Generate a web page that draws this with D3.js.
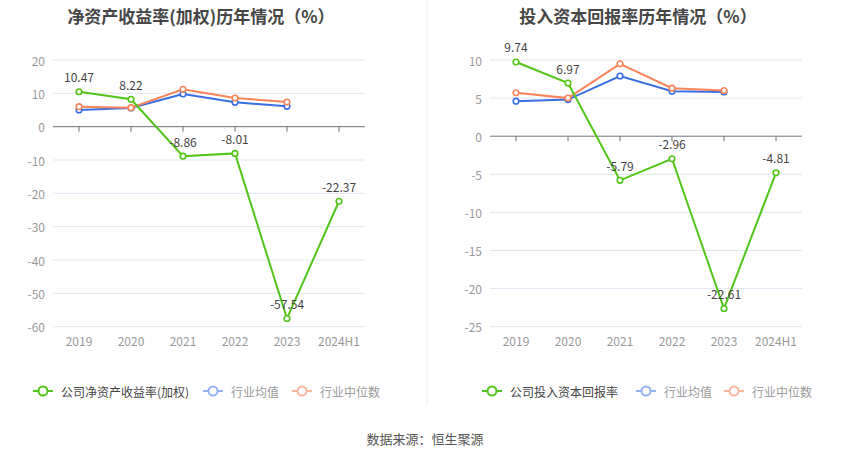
<!DOCTYPE html>
<html>
<head>
<meta charset="utf-8">
<script src="https://cdn.jsdelivr.net/npm/d3@7"></script>
<style>
  body{margin:0;background:#fff;}
  svg{font-family:"Noto Sans CJK SC","Noto Sans",sans-serif;}
</style>
</head>
<body>
<div id="chart"></div>
<script>
const years=["2019","2020","2021","2022","2023","2024H1"];

const roeCompany=[10.47,8.22,-8.86,-8.01,-57.54,-22.37];
const roeAvg=[5.0,5.6,9.8,7.3,6.1];
const roeMedian=[6.0,5.7,11.2,8.6,7.4];
const roeTicks=[20,10,0,-10,-20,-30,-40,-50,-60];

const roicCompany=[9.74,6.97,-5.79,-2.96,-22.61,-4.81];
const roicAvg=[4.6,4.8,7.9,5.9,5.8];
const roicMedian=[5.7,5.0,9.5,6.3,6.0];
const roicTicks=[10,5,0,-5,-10,-15,-20,-25];

const green="#52c41a", blue="#3a6fe4", orange="#f8845b";

const svg=d3.select("#chart")
    .append("svg")
    .attr("width",850)
    .attr("height",459);

// divider between the two panels
svg.append("line")
    .attr("x1",427).attr("x2",427)
    .attr("y1",0).attr("y2",405)
    .attr("stroke","#eeeeee");

function drawPanel(p){

    const x=d3.scaleBand().domain(years).range([p.left,p.right]);
    const y=d3.scaleLinear().domain([p.ticks[p.ticks.length-1],p.ticks[0]]).range([326.7,60]);
    const cx=d=>x(d)+x.bandwidth()/2;

    const g=svg.append("g");

    g.append("text")
        .attr("x",p.titleX).attr("y",15)
        .attr("text-anchor","middle")
        .attr("dominant-baseline","central")
        .attr("font-size",17)
        .attr("font-weight","bold")
        .attr("fill","#464646")
        .text(p.title);

    // grid lines
    g.selectAll(".grid")
        .data(p.ticks.filter(t=>t!==0))
        .enter()
        .append("line")
        .attr("x1",p.left).attr("x2",p.right)
        .attr("y1",d=>y(d)).attr("y2",d=>y(d))
        .attr("stroke","#e0e6f1");

    g.selectAll(".ylab")
        .data(p.ticks)
        .enter()
        .append("text")
        .attr("x",p.left-8)
        .attr("y",d=>y(d))
        .attr("text-anchor","end")
        .attr("dominant-baseline","central")
        .attr("font-size",12)
        .attr("fill","#999")
        .text(d=>d);

    // zero axis
    g.append("line")
        .attr("x1",p.left).attr("x2",p.right)
        .attr("y1",y(0)).attr("y2",y(0))
        .attr("stroke","#6e7079");

    g.selectAll(".tick")
        .data(years)
        .enter()
        .append("line")
        .attr("x1",cx).attr("x2",cx)
        .attr("y1",y(0)).attr("y2",y(0)+5)
        .attr("stroke","#6e7079");

    g.selectAll(".xlab")
        .data(years)
        .enter()
        .append("text")
        .attr("x",cx)
        .attr("y",340)
        .attr("text-anchor","middle")
        .attr("dominant-baseline","central")
        .attr("font-size",12)
        .attr("fill","#999")
        .text(d=>d);

    const line=d3.line().x((d,i)=>cx(years[i])).y(d=>y(d));

    [[p.avg,blue],[p.median,orange],[p.company,green]].forEach(([vals,col])=>{

        g.append("path")
            .datum(vals)
            .attr("d",line)
            .attr("fill","none")
            .attr("stroke",col)
            .attr("stroke-width",2);

        g.selectAll(null)
            .data(vals)
            .enter()
            .append("circle")
            .attr("cx",(d,i)=>cx(years[i]))
            .attr("cy",d=>y(d))
            .attr("r",2.8)
            .attr("fill","#fff")
            .attr("stroke",col)
            .attr("stroke-width",1.6);

    });

    g.selectAll(".vlab")
        .data(p.company)
        .enter()
        .append("text")
        .attr("x",(d,i)=>cx(years[i]))
        .attr("y",d=>y(d)-15)
        .attr("text-anchor","middle")
        .attr("dominant-baseline","central")
        .attr("font-size",12)
        .attr("fill","#444")
        .text(d=>d.toFixed(2));

    // legend
    const items=[
        {label:p.legend,col:green,text:"#444",x:p.legendX[0]},
        {label:"行业均值",col:"#93b1f3",text:"#999",x:p.legendX[1]},
        {label:"行业中位数",col:"#fab59c",text:"#999",x:p.legendX[2]}
    ];

    const lg=g.selectAll(".legend")
        .data(items)
        .enter()
        .append("g")
        .attr("transform",d=>`translate(${d.x},391)`);

    lg.append("line")
        .attr("x1",0).attr("x2",20)
        .attr("stroke",d=>d.col)
        .attr("stroke-width",2);

    lg.append("circle")
        .attr("cx",10).attr("r",4.5)
        .attr("fill","#fff")
        .attr("stroke",d=>d.col)
        .attr("stroke-width",2);

    lg.append("text")
        .attr("x",28)
        .attr("dominant-baseline","central")
        .attr("font-size",12)
        .attr("fill",d=>d.text)
        .text(d=>d.label);

}

drawPanel({
    title:"净资产收益率(加权)历年情况（%）",titleX:201,
    left:53,right:365,ticks:roeTicks,
    company:roeCompany,avg:roeAvg,median:roeMedian,
    legend:"公司净资产收益率(加权)",legendX:[33,203,292]
});

drawPanel({
    title:"投入资本回报率历年情况（%）",titleX:638,
    left:490,right:802,ticks:roicTicks,
    company:roicCompany,avg:roicAvg,median:roicMedian,
    legend:"公司投入资本回报率",legendX:[482,636,724]
});

svg.append("text")
    .attr("x",425).attr("y",438)
    .attr("text-anchor","middle")
    .attr("dominant-baseline","central")
    .attr("font-size",13)
    .attr("fill","#555")
    .text("数据来源：恒生聚源");
</script>
</body>
</html>
